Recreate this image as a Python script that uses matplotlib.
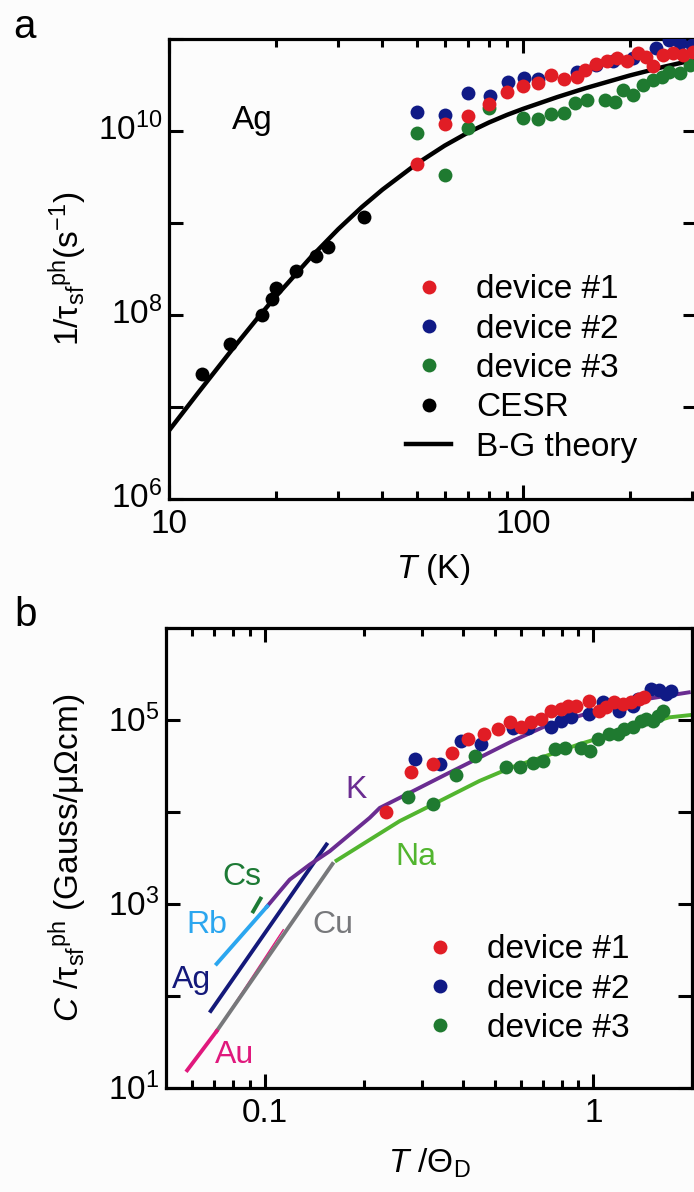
import matplotlib
matplotlib.use('Agg')
import matplotlib.pyplot as plt
import matplotlib.ticker as mticker
import matplotlib.transforms as mtransforms
from matplotlib.lines import Line2D

# ---------------- panel a : Ag, 1/tau_sf^ph vs T ----------------
cesr_T = [12.4, 14.8, 18.3, 19.5, 20.0, 22.8, 25.9, 28.0, 35.4]
cesr_rate = [2.3e7, 4.8e7, 1.0e8, 1.5e8, 1.95e8, 3.0e8, 4.4e8, 5.5e8, 1.17e9]

theory_T = [10, 12, 15, 18, 20, 25, 30, 35, 40, 50, 60, 70, 80, 90, 100, 125, 150, 200,
            250, 310]
theory_rate = [5.6e6, 1.39e7, 4.15e7, 9.86e7, 1.59e8, 4.16e8, 8.55e8, 1.49e9, 2.30e9, 4.4e9,
               6.93e9, 9.66e9, 1.236e10, 1.496e10, 1.742e10, 2.34e10, 2.92e10, 4.01e10,
               4.99e10, 6.03e10]

dev1_T = [50, 60.1, 70, 80.2, 89.8, 100, 110, 120, 130.6, 141.5, 149.4, 161, 172, 183.7, 196,
          211, 223, 233, 249, 265, 283, 302]
dev1_rate = [4.38e9, 1.18e10, 1.46e10, 1.97e10, 2.68e10, 3.08e10, 3.35e10, 4.06e10, 3.65e10,
             3.9e10, 4.6e10, 5.4e10, 5.7e10, 6.2e10, 5.7e10, 7.1e10, 6.4e10, 5.1e10, 6.7e10,
             7.0e10, 6.7e10, 7.3e10]

dev2_T = [50, 60.1, 70, 80.5, 90.4, 100.4, 110, 141.5, 161, 179.5, 204.5, 238, 259, 277, 299]
dev2_rate = [1.62e10, 1.49e10, 2.61e10, 2.42e10, 3.44e10, 3.74e10, 3.65e10, 4.42e10, 5.2e10,
             5.7e10, 6.2e10, 7.9e10, 9.8e10, 8.97e10, 8.6e10]

dev3_T = [50, 60.1, 70, 80.2, 100, 110, 120, 130.6, 140, 151, 170, 181.6, 192, 204.5, 218,
          233, 246, 259, 277, 296]
dev3_rate = [9.4e9, 3.3e9, 1.09e10, 1.77e10, 1.37e10, 1.34e10, 1.52e10, 1.56e10, 2.0e10,
             2.17e10, 2.17e10, 2.08e10, 2.79e10, 2.46e10, 3.16e10, 3.58e10, 3.9e10, 4.42e10,
             4.24e10, 5.2e10]

# ---------------- panel b : C/tau_sf^ph vs T/Theta_D ----------------
K_t = [0.1016, 0.111, 0.119, 0.137, 0.1576, 0.1813, 0.2085, 0.2237, 0.2824, 0.3566, 0.450,
       0.568, 0.718, 0.906, 1.145, 1.445, 1.95]
K_v = [944, 1377, 1845, 2690, 3760, 5710, 8670, 1.11e4, 1.69e4, 2.58e4, 3.91e4, 5.94e4,
       8.67e4, 1.11e5, 1.43e5, 1.69e5, 2.0e5]

Na_t = [0.1652, 0.2085, 0.2572, 0.3248, 0.450, 0.568, 0.718, 0.906, 1.145, 1.445, 1.70, 2.0]
Na_v = [2972, 5000, 7980, 1.21e4, 2.18e4, 3.1e4, 4.08e4, 5.47e4, 7.03e4, 9.04e4, 1.07e5, 1.14e5]

Cs_t = [0.0921, 0.097]
Cs_v = [832, 1146]
Rb_t = [0.0713, 0.1016]
Rb_v = [224, 944]
Ag_t = [0.0684, 0.154]
Ag_v = [68.8, 4444]
Cu_t = [0.0713, 0.1606]
Cu_v = [41.6, 2730]
Au_t = [0.058, 0.0713]
Au_v = [15.6, 41.6]
Au_thin_t = [0.0713, 0.1137]
Au_thin_v = [41.6, 526]

b_dev1_t = [0.2333, 0.2792, 0.3248, 0.372, 0.4149, 0.464, 0.5118, 0.5556, 0.6029, 0.6464,
            0.6934, 0.7436, 0.7975, 0.8355, 0.8859, 0.9723, 1.043, 1.093, 1.158, 1.228,
            1.302, 1.38, 1.429]
b_dev1_v = [1.01e4, 2.75e4, 3.31e4, 4.43e4, 6.21e4, 7.04e4, 7.98e4, 9.41e4, 8.45e4, 9.41e4,
            1.03e5, 1.26e5, 1.32e5, 1.43e5, 1.43e5, 1.62e5, 1.26e5, 1.37e5, 1.56e5, 1.49e5,
            1.56e5, 1.69e5, 1.76e5]

b_dev2_t = [0.2857, 0.3402, 0.3962, 0.4558, 0.5683, 0.6315, 0.7436, 0.7975, 0.8553, 0.9723,
            1.067, 1.20, 1.317, 1.364, 1.497, 1.587, 1.663, 1.723]
b_dev2_v = [3.76e4, 3.36e4, 5.95e4, 5.47e4, 8.18e4, 8.18e4, 8.45e4, 9.83e4, 1.07e5, 1.16e5,
            1.56e5, 1.26e5, 1.43e5, 1.69e5, 2.18e5, 2.12e5, 1.92e5, 2.09e5]

b_dev3_t = [0.2727, 0.3248, 0.3806, 0.4347, 0.5427, 0.5959, 0.6538, 0.7014, 0.7613, 0.8165,
            0.9176, 0.9772, 1.031, 1.118, 1.186, 1.242, 1.317, 1.396, 1.446, 1.514, 1.569,
            1.624]
b_dev3_v = [1.47e4, 1.23e4, 2.51e4, 4.08e4, 3.1e4, 3.1e4, 3.45e4, 3.6e4, 4.83e4, 5.03e4,
            5.03e4, 4.63e4, 6.21e4, 7.04e4, 7.04e4, 7.98e4, 8.31e4, 9.83e4, 1.03e5, 9.83e4,
            1.11e5, 1.26e5]

RED = '#e11d25'
BLUE = '#101a86'
GREEN = '#1f7a30'

plt.rcParams['font.family'] = ['Liberation Sans', 'DejaVu Sans']
plt.rcParams['mathtext.fontset'] = 'custom'
plt.rcParams['mathtext.rm'] = 'Liberation Sans'
plt.rcParams['mathtext.it'] = 'Liberation Sans:italic'
plt.rcParams['mathtext.bf'] = 'Liberation Sans:bold'
plt.rcParams['mathtext.sf'] = 'Liberation Sans'
plt.rcParams['mathtext.default'] = 'regular'

FS = 24
MS = 10


def style_axes(ax):
    for sp in ax.spines.values():
        sp.set_linewidth(2.3)
    ax.tick_params(which='both', direction='in', top=True, right=True, width=2.2,
                   labelsize=FS)
    ax.tick_params(which='major', length=10)
    ax.tick_params(which='minor', length=5.5)
    ax.tick_params(axis='x', which='both', pad=7)
    ax.tick_params(axis='y', which='both', pad=5)


def decade_label(v, pos):
    e = int(round(mticker.np.log10(v)))
    return r'$10^{%d}$' % e


def lift_ylabels(ax, pts):
    # nudge the y tick labels upward a little
    off = mtransforms.ScaledTranslation(0, pts / 72, ax.figure.dpi_scale_trans)
    for lab in ax.get_yticklabels():
        lab.set_transform(lab.get_transform() + off)


fig = plt.figure(figsize=(6.94, 11.92), dpi=100, facecolor='#fcfcfc')

# ---------- panel a ----------
ax = fig.add_axes([0.244, 0.5814, 0.7604, 0.3859])
ax.set_facecolor('#fcfcfc')
ax.set_xscale('log')
ax.set_yscale('log')
ax.plot(theory_T, theory_rate, color='black', lw=3.2, zorder=2)
ax.plot(dev3_T, dev3_rate, 'o', color=GREEN, ms=MS, mew=0, zorder=3)
ax.plot(dev2_T, dev2_rate, 'o', color=BLUE, ms=MS, mew=0, zorder=4)
ax.plot(dev1_T, dev1_rate, 'o', color=RED, ms=MS, mew=0, zorder=5)
ax.plot(cesr_T, cesr_rate, 'o', color='black', ms=MS, mew=0, zorder=5)
ax.set_xlim(10, 310)
ax.set_ylim(1e6, 1e11)
ax.yaxis.set_major_locator(mticker.FixedLocator([1e6, 1e8, 1e10]))
ax.yaxis.set_major_formatter(mticker.FuncFormatter(decade_label))
ax.yaxis.set_minor_locator(mticker.FixedLocator([1e7, 1e9, 1e11]))
ax.yaxis.set_minor_formatter(mticker.NullFormatter())
ax.xaxis.set_major_locator(mticker.FixedLocator([10, 100]))
ax.xaxis.set_major_formatter(mticker.FixedFormatter(['10', '100']))
ax.xaxis.set_minor_locator(mticker.FixedLocator([20, 30, 40, 50, 60, 70, 80, 90, 200, 300]))
ax.xaxis.set_minor_formatter(mticker.NullFormatter())
style_axes(ax)
ax.tick_params(axis='y', which='minor', length=10)
ax.set_xlabel(r'$\mathit{T}$ (K)', fontsize=FS)
ax.xaxis.set_label_coords(0.5, -0.115)
ax.set_ylabel(r'$1/\tau_{sf}{}^{ph}(s^{-1})$', fontsize=FS)
ax.yaxis.set_label_coords(-0.152, 0.5)
ax.text(0.157, 0.822, 'Ag', transform=ax.transAxes, fontsize=FS, ha='center', va='center')

handles = [Line2D([], [], marker='o', ls='none', color=RED, ms=MS, mew=0),
           Line2D([], [], marker='o', ls='none', color=BLUE, ms=MS, mew=0),
           Line2D([], [], marker='o', ls='none', color=GREEN, ms=MS, mew=0),
           Line2D([], [], marker='o', ls='none', color='black', ms=MS, mew=0),
           Line2D([], [], color='black', lw=3.2)]
labels = ['device #1', 'device #2', 'device #3', 'CESR', 'B-G theory']
ax.legend(handles, labels, loc='upper left', bbox_to_anchor=(0.4486, 0.488), frameon=False,
          fontsize=FS, handlelength=1.35, handletextpad=0.75, labelspacing=0.25,
          borderpad=0, borderaxespad=0)
fig.text(24 / 694, 1 - 27 / 1192, 'a', fontsize=29, ha='center', va='center')

# ---------- panel b ----------
bx = fig.add_axes([0.2392, 0.0872, 0.7584, 0.3859])
bx.set_facecolor('#fcfcfc')
bx.set_xscale('log')
bx.set_yscale('log')
bx.plot(Au_thin_t, Au_thin_v, color='#e0197d', lw=1.0, zorder=2)
bx.plot(Cu_t, Cu_v, color='#77787b', lw=2.8, zorder=2)
bx.plot(Au_t, Au_v, color='#e0197d', lw=2.8, zorder=2)
bx.plot(Ag_t, Ag_v, color='#14197a', lw=2.8, zorder=2)
bx.plot(K_t, K_v, color='#6a2c91', lw=2.8, zorder=2)
bx.plot(Rb_t, Rb_v, color='#2ba6ef', lw=2.8, zorder=2)
bx.plot(Cs_t, Cs_v, color='#1d7a35', lw=2.8, zorder=2)
bx.plot(Na_t, Na_v, color='#52b52f', lw=2.8, zorder=2)
bx.plot(b_dev3_t, b_dev3_v, 'o', color=GREEN, ms=MS, mew=0, zorder=3)
bx.plot(b_dev2_t, b_dev2_v, 'o', color=BLUE, ms=MS, mew=0, zorder=4)
bx.plot(b_dev1_t, b_dev1_v, 'o', color=RED, ms=MS, mew=0, zorder=5)
bx.set_xlim(0.05, 2.0)
bx.set_ylim(10, 1e6)
bx.yaxis.set_major_locator(mticker.FixedLocator([1e1, 1e3, 1e5]))
bx.yaxis.set_major_formatter(mticker.FuncFormatter(decade_label))
bx.yaxis.set_minor_locator(mticker.FixedLocator([1e2, 1e4, 1e6]))
bx.yaxis.set_minor_formatter(mticker.NullFormatter())
bx.xaxis.set_major_locator(mticker.FixedLocator([0.1, 1]))
bx.xaxis.set_major_formatter(mticker.FixedFormatter(['0.1', '1']))
bx.xaxis.set_minor_locator(mticker.FixedLocator([0.06, 0.07, 0.08, 0.09, 0.2, 0.3, 0.4, 0.5,
                                                 0.6, 0.7, 0.8, 0.9, 2]))
bx.xaxis.set_minor_formatter(mticker.NullFormatter())
style_axes(bx)
bx.tick_params(axis='y', which='minor', length=10)
bx.set_xlabel(r'$\mathit{T}\ /\Theta_D$', fontsize=FS)
bx.xaxis.set_label_coords(0.5, -0.128)
bx.set_ylabel(r'$\mathit{C}\ /\tau_{sf}{}^{ph}\ (Gauss/\mu\Omega cm)$', fontsize=FS)
bx.yaxis.set_label_coords(-0.146, 0.5)

for txt, x, y, c in [('K', 0.361, 0.648, '#6a2c91'), ('Na', 0.475, 0.503, '#52b52f'),
                     ('Cs', 0.145, 0.459, '#1d7a35'), ('Rb', 0.077, 0.355, '#2ba6ef'),
                     ('Ag', 0.0475, 0.235, '#14197a'), ('Cu', 0.317, 0.354, '#77787b'),
                     ('Au', 0.131, 0.072, '#e0197d')]:
    bx.text(x, y, txt, transform=bx.transAxes, fontsize=23, color=c, ha='center', va='center')

bx.legend(handles[:3], labels[:3], loc='upper left', bbox_to_anchor=(0.477, 0.334),
          frameon=False, fontsize=FS, handlelength=1.35, handletextpad=0.75,
          labelspacing=0.25, borderpad=0, borderaxespad=0)
fig.text(26 / 694, 1 - 615 / 1192, 'b', fontsize=29, ha='center', va='center')

fig.canvas.draw()
lift_ylabels(ax, 3.5)
lift_ylabels(bx, 1.5)

fig.savefig('out.png', dpi=100, facecolor=fig.get_facecolor())
